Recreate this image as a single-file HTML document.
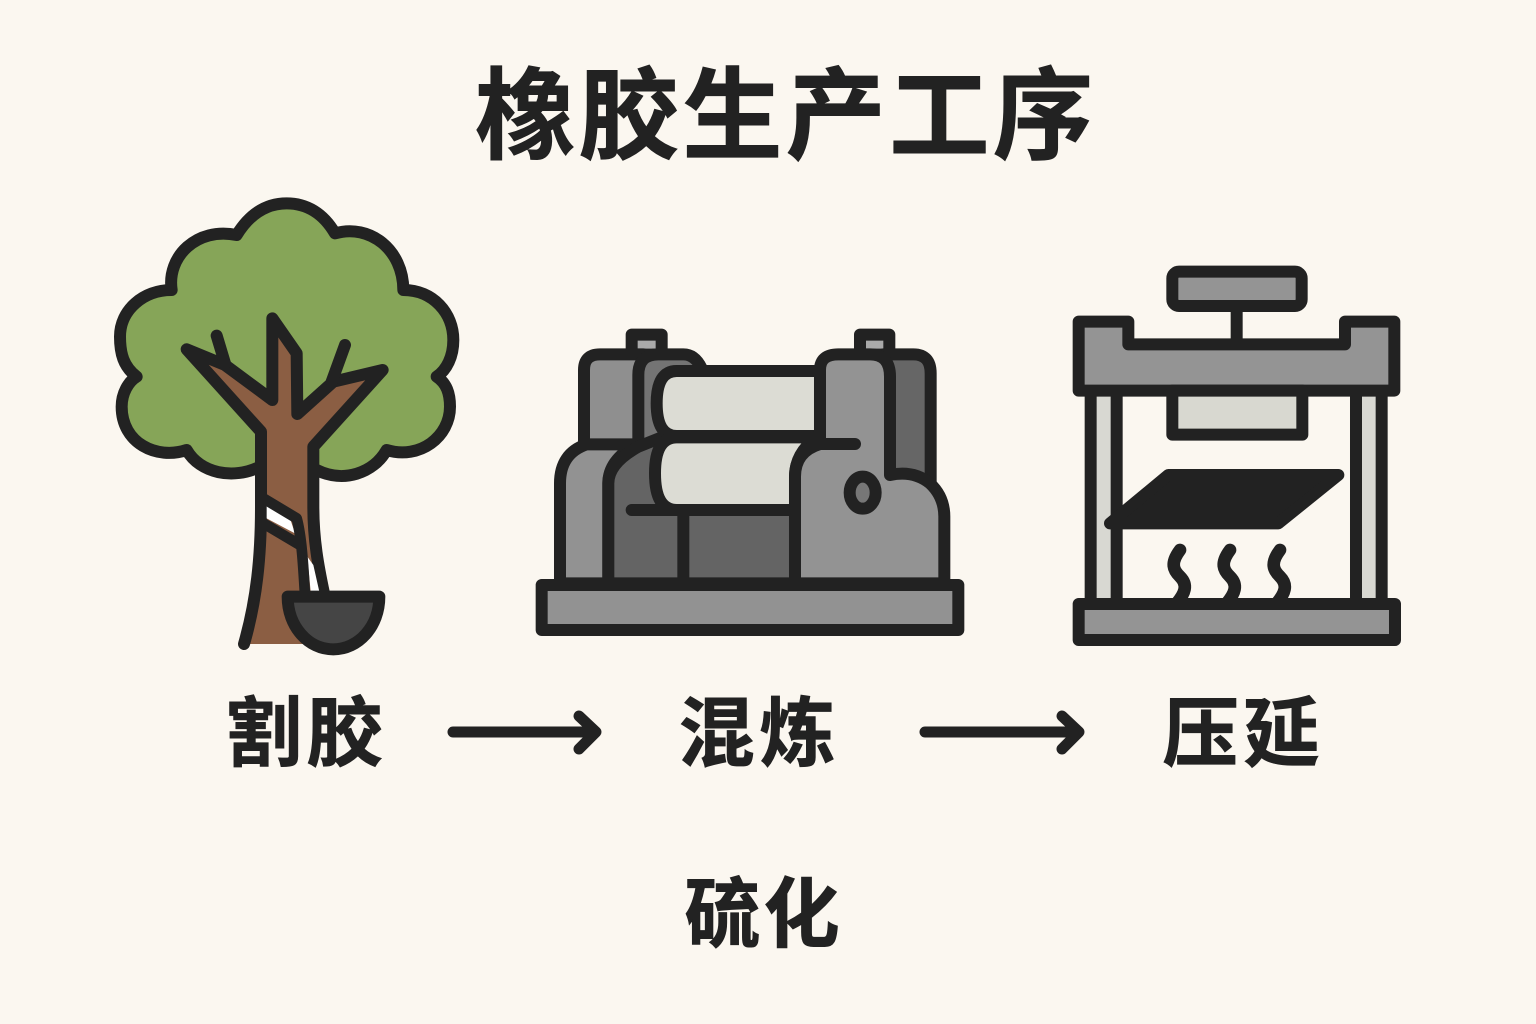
<!DOCTYPE html>
<html><head><meta charset="utf-8"><style>
html,body{margin:0;padding:0;background:#fbf7f0}
svg{display:block}
text{font-family:"Liberation Sans","Noto Sans CJK SC",sans-serif;font-weight:700;fill:#222;stroke:#222;stroke-width:.9;text-anchor:middle}
.s{stroke:#222;stroke-width:36;stroke-linejoin:round;stroke-linecap:round}
.l{fill:none}
</style></head><body>
<svg width="1536" height="1024" viewBox="0 0 1536 1024" xmlns="http://www.w3.org/2000/svg">
<rect width="1536" height="1024" fill="#fbf7f0"/>
<text x="784" y="151" font-size="100" textLength="618" lengthAdjust="spacing">橡胶生产工序</text>

<!-- tree -->
<g transform="translate(100,190) scale(.33333)">
<path class="s" fill="#86a558" d="M480,830 C400,870 300,850 260,780 C170,810 65,760 65,650 C65,610 85,575 110,560 C70,530 60,490 60,440 C60,360 130,300 215,300 C200,200 290,110 410,135 C450,70 500,40 560,40 C620,40 670,70 705,130 C810,100 910,180 910,300 C1000,300 1060,370 1060,450 C1060,500 1040,540 1010,560 C1040,580 1050,610 1050,650 C1050,740 960,810 860,780 C820,850 730,880 650,840 Z"/>
<path fill="#8b5e43" d="M432,1362 C470,1230 483,1100 483,950 V725 L260,478 L375,525 L517,630 V385 L590,490 V672 L700,575 L848,540 L640,770 V950 C640,1050 655,1130 672,1210 L620,1362 Z"/>
<path class="s l" d="M432,1362 C470,1230 483,1100 483,950 V725 L260,478 L375,525 L517,630 V385 L590,490 L592,672 L700,575 L848,540 L640,770 V950 C640,1050 655,1130 672,1210"/>
<path class="s l" d="M350,437 L375,520 M735,465 L695,575"/>
<path fill="#fff" d="M500,945 L570,985 L585,1030 L500,985 Z M622,1100 L640,1125 L658,1205 L632,1205 Z"/>
<path class="s l" style="stroke-linecap:butt;stroke-width:32" d="M490,925 L590,985 C605,1040 610,1130 615,1215 M490,1000 L605,1068"/>
<path class="s" fill="#454545" d="M563,1220 H838 C838,1310 775,1378 700,1378 C625,1378 563,1310 563,1220 Z"/>
</g>

<!-- mill -->
<g transform="translate(530,320) scale(.33333)">
<rect class="s" x="305" y="44" width="90" height="60" fill="#aaa"/>
<rect class="s" x="990" y="44" width="88" height="60" fill="#aaa"/>
<path class="s" fill="#8f8f8f" d="M162,375 V150 Q162,103 210,103 H340 V375 Z"/>
<path class="s" fill="#747474" d="M325,380 V165 Q325,103 385,103 H460 Q495,103 515,145 V600 H325 Z"/>
<path class="s" fill="#666" d="M1060,103 H1150 Q1202,103 1202,160 V500 H1060 Z"/>
<path class="s" fill="#929292" d="M90,790 V490 Q90,400 170,373 H320 Q235,420 235,490 V790 Z"/>
<path class="s" fill="#646464" d="M235,790 V490 Q235,430 325,380 L400,350 V570 H795 V790 Z"/>
<path class="s" fill="#dcdcd4" d="M440,153 H870 V348 H440 Q380,348 380,250 Q380,153 440,153 Z"/>
<path class="s" fill="#dcdcd4" d="M440,352 H860 Q795,400 795,470 V570 H440 Q375,570 375,460 Q375,352 440,352 Z"/>
<path class="s l" d="M305,570 H795 M460,570 V790"/>
<path class="s" fill="#939393" d="M795,790 V470 Q795,395 870,372 V150 Q870,103 925,103 H1020 Q1080,103 1080,170 V465 Q1150,450 1200,490 Q1243,530 1243,590 V790 Z"/>
<path class="s l" d="M860,372 H975"/>
<ellipse class="s" cx="998" cy="518" rx="39" ry="48" fill="#777"/>
<rect class="s" x="35" y="795" width="1250" height="135" fill="#929292"/>
</g>

<!-- press -->
<g transform="translate(1060,260) scale(.33333)">
<path class="s l" d="M530,138 V250"/>
<rect class="s" x="337" y="35" width="388" height="103" rx="20" fill="#949494"/>
<rect x="110" y="400" width="44" height="620" fill="#d8d8d2"/>
<rect x="905" y="400" width="44" height="620" fill="#d8d8d2"/>
<path class="s l" style="stroke-linecap:butt" d="M92,392 V1032 M170,392 V1032 M888,392 V1032 M965,392 V1032"/>
<path class="s" fill="#949494" d="M56,185 H205 V253 H855 V185 H1003 V392 H56 Z"/>
<rect class="s" x="337" y="392" width="390" height="132" fill="#d8d8d0"/>
<path class="s" fill="#222" d="M325,645 H835 L655,790 H150 Z"/>
<g class="s l" style="stroke-width:38">
<path fill="none" d="M360,870 C330,910 340,930 360,950 C385,975 375,1000 350,1030"/>
<path fill="none" d="M510,870 C480,910 490,930 510,950 C535,975 525,1000 500,1030"/>
<path fill="none" d="M660,870 C630,910 640,930 660,950 C685,975 675,1000 650,1030"/>
</g>
<rect class="s" x="56" y="1032" width="949" height="108" fill="#949494"/>
</g>

<!-- labels -->
<text x="304" y="760" font-size="76" textLength="157" lengthAdjust="spacing">割胶</text>
<text x="757" y="760" font-size="76" textLength="157" lengthAdjust="spacing">混炼</text>
<text x="1241" y="760" font-size="76" textLength="157" lengthAdjust="spacing">压延</text>
<text x="762" y="941" font-size="76" textLength="155" lengthAdjust="spacing">硫化</text>

<!-- arrows -->
<g fill="none" stroke="#222" stroke-width="11" stroke-linecap="round" stroke-linejoin="round">
<path d="M453,732 H592 M579,716 L596,732 L579,749"/>
<path d="M925,732 H1075 M1062,716 L1079,732 L1062,749"/>
</g>
</svg>
</body></html>
